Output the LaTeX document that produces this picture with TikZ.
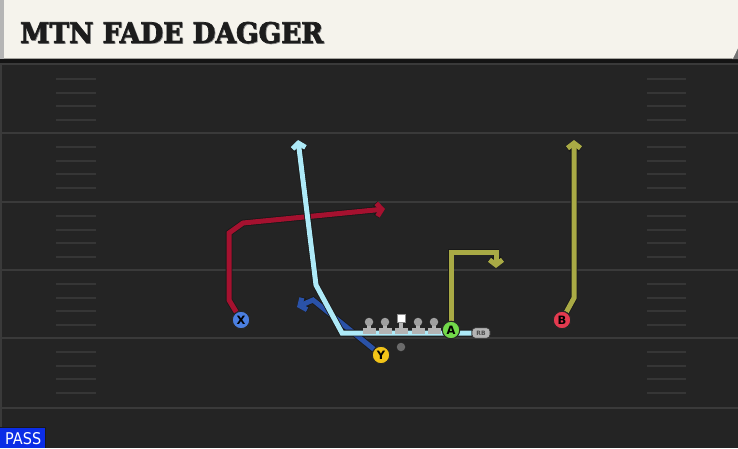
\documentclass[tikz,border=0pt]{standalone}
\usepackage{fontspec}
\setmainfont{DejaVu Sans}
\newfontfamily\titlefont{DejaVu Serif}[FakeBold=2.5]
\usetikzlibrary{arrows.meta}
\definecolor{fieldbg}{HTML}{242424}
\definecolor{fieldline}{HTML}{3A3A3A}
\definecolor{hashcol}{HTML}{363636}
\definecolor{hdr}{HTML}{F5F3EC}
\definecolor{hdrgrey}{HTML}{B5B5B5}
\definecolor{titlecol}{HTML}{1C1C1C}
\definecolor{passblue}{HTML}{0B2DE6}
\definecolor{lblue}{HTML}{AEEAF8}
\definecolor{crimson}{HTML}{A5112F}
\definecolor{dblue}{HTML}{2A52A8}
\definecolor{olive}{HTML}{A9AA45}
\definecolor{xcol}{HTML}{4B7FE0}
\definecolor{ycol}{HTML}{F2C418}
\definecolor{acol}{HTML}{72D94A}
\definecolor{bcol}{HTML}{E33A4F}
\definecolor{linegrey}{HTML}{B4B4B4}
\definecolor{headgrey}{HTML}{A0A0A0}
\definecolor{qbgrey}{HTML}{6B6B6B}
\pgfdeclarelayer{field}
\pgfdeclarelayer{routes}
\pgfsetlayers{field,routes,main}
\tikzset{
  route/.style={line width=5pt, line join=miter, preaction={draw=black!90, line width=6.6pt}},
  tip/.style={-{Straight Barb[length=5pt,width=13pt]}},
  player/.style={circle, draw=black!85, line width=1pt, minimum size=17.5pt, inner sep=0pt,
    font=\bfseries\fontsize{11.5}{11.5}\selectfont, text=black},
  hash/.style={draw=hashcol, line width=1.6pt},
  yard/.style={draw=fieldline, line width=2pt},
  head/.style={circle, fill=headgrey, minimum size=8.5pt, inner sep=0pt},
}
\begin{document}
\begin{tikzpicture}[x=1pt,y=-1pt]
\useasboundingbox (0,0) rectangle (738,448);
\begin{pgfonlayer}{field}
  % field
  \fill[fieldbg] (0,0) rectangle (738,448);
  \fill[fieldline] (0,59) rectangle (2,448);
  % header
  \fill[black!92] (0,58) rectangle (738,62.5);
  \fill[black!55] (733,46) -- (738,46) -- (738,59) -- (732,59) -- cycle;
  \fill[hdr] (0,0) -- (738,0) -- (738,48) -- (733,58.5) -- (0,58.5) -- cycle;
  \fill[hdrgrey] (0,0) rectangle (4,58.5);
  % yard lines
  \foreach \yy in {64,133,202,270,338,408}{
    \draw[yard] (2,\yy) -- (738,\yy);
  }
  % hash marks
  \foreach \yy in {65,133,202,270,338}{
    \foreach \dd in {14,28,41,55}{
      \draw[hash] (56,\yy+\dd) -- (96,\yy+\dd);
      \draw[hash] (647,\yy+\dd) -- (686,\yy+\dd);
    }
  }
\end{pgfonlayer}

% title
\node[anchor=south west, inner sep=0pt, text=black!45] (titleshadow) at (20.8,44.2)
  {\resizebox{303pt}{21pt}{\titlefont\bfseries MTN FADE DAGGER}};
\node[anchor=south west, inner sep=0pt, text=titlecol] (title) at (20,43.5)
  {\resizebox{303pt}{21pt}{\titlefont\bfseries MTN FADE DAGGER}};

% pass tag
\fill[black!90] (0,427) rectangle (46,448);
\fill[passblue] (0,428) rectangle (45,448);
\node[anchor=south west, inner sep=0pt, text=white] (pass) at (5,445)
  {\resizebox{36pt}{12pt}{PASS}};

% offensive line
\foreach \lx/\nm in {369/lt,385/lg,418/rg,434/rt}{
  \fill[linegrey] (\lx-6.5,328) rectangle (\lx+6.5,333.5);
  \fill[linegrey] (\lx-2.2,322) rectangle (\lx+2.2,329);
  \node[head] (\nm) at (\lx,322) {};
}
\fill[linegrey] (394.5,328) rectangle (407.5,333.5);
\fill[linegrey] (398.8,320) rectangle (403.2,329);
\node[rectangle, fill=white, draw=black!45, line width=0.6pt, minimum size=8pt, inner sep=0pt] (c) at (401,318) {};
\node[circle, fill=qbgrey, minimum size=8.5pt, inner sep=0pt] (qb) at (401,347) {};

% skill players
\node[player, fill=xcol] (x) at (241,320) {X};
\node[player, fill=ycol] (y) at (381,355) {Y};
\node[player, fill=acol] (a) at (451,330) {A};
\node[player, fill=bcol] (b) at (562,320) {B};
\node[rounded corners=3.5pt, fill=linegrey, draw=black!80, line width=0.7pt, minimum width=18pt,
  minimum height=10.5pt, inner sep=0pt, text=black!70,
  font=\bfseries\fontsize{6}{6}\selectfont] (rb) at (481,333) {RB};

% route end points
\coordinate (xe) at (385,209);
\coordinate (ye) at (297,307);
\coordinate (ae) at (496,268);
\coordinate (be) at (574,140);
\coordinate (rbe) at (298,140);

\begin{pgfonlayer}{routes}
  \draw[route, draw=dblue, tip] (y) -- (313,300) -- (ye);
  \draw[route, draw=crimson, tip] (x) -- (229,300) -- (229,233) -- (243,223) -- (xe);
  \draw[route, draw=olive, tip] (a) -- (451,252) -- (496,252) -- (ae);
  \draw[route, draw=olive, tip] (b) -- (574,298) -- (be);
  \draw[route, draw=lblue, tip] (rb) -- (342,333) -- (316,285) -- (rbe);
\end{pgfonlayer}
\end{tikzpicture}
\end{document}
